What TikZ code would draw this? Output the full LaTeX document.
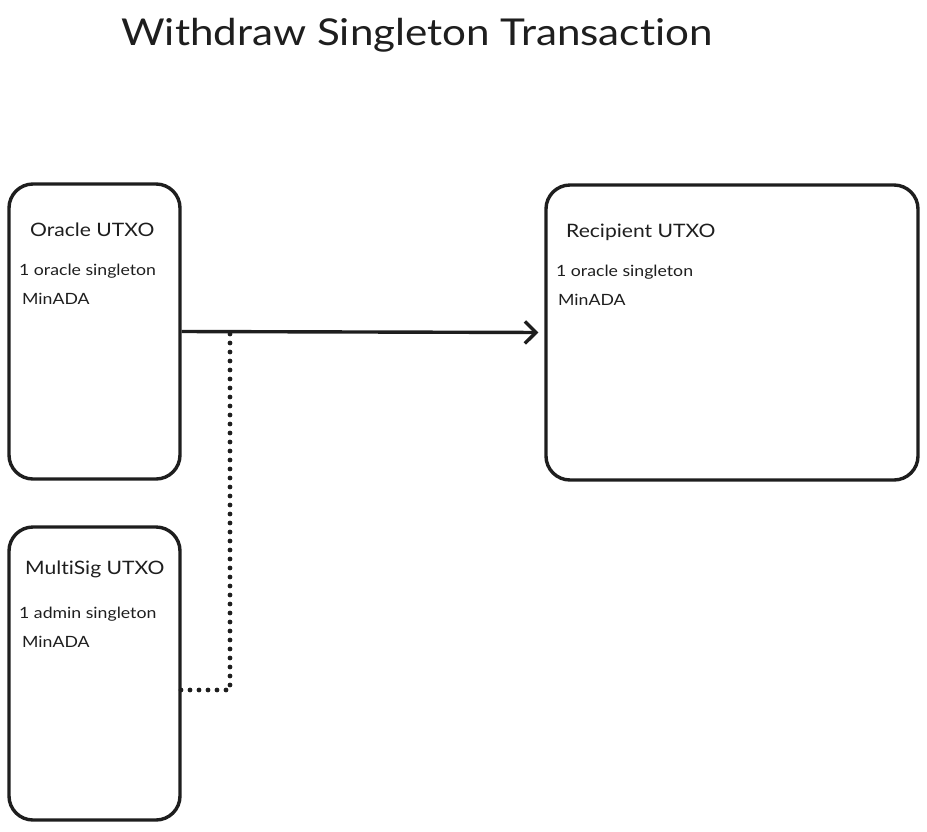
\documentclass[tikz,border=0pt]{standalone}
\usepackage{fontspec}
\setmainfont{Lato}[Ligatures={NoCommon}]
\usetikzlibrary{arrows.meta}
\definecolor{ink}{HTML}{1E1E1E}
\newcommand{\hw}[1]{\scalebox{1.14}[1]{#1}}
\tikzset{
  utxo/.style={draw=ink, line width=3.4pt, rounded corners=24pt, inner sep=0pt, anchor=center},
  head/.style={text=ink, font=\fontsize{18.5}{22}\selectfont, anchor=base west, inner sep=0pt},
  item/.style={text=ink, font=\fontsize{15.5}{18}\selectfont, anchor=base west, inner sep=0pt},
  flow/.style={draw=ink, line width=3.4pt, -{Straight Barb[length=11pt,width=22pt,line width=3.4pt]}},
  link/.style={draw=ink, line width=4.8pt, line cap=round, dash pattern=on 0pt off 9pt}
}
\begin{document}
\begin{tikzpicture}[x=1pt,y=-1pt]
\useasboundingbox (0,0) rectangle (927,831);
\node[text=ink, font=\fontsize{37}{44}\selectfont, anchor=base, inner sep=0pt] (title) at (417,45) {\hw{Withdraw Singleton Transaction}};
\node[utxo, minimum width=171pt, minimum height=295pt] (oracle) at (94.5,331.5) {};
\node[utxo, minimum width=171pt, minimum height=293pt] (multisig) at (94.5,673.5) {};
\node[utxo, minimum width=372pt, minimum height=295pt] (recipient) at (732,332.5) {};
\node[head] (oh) at (30,236) {\hw{Oracle UTXO}};
\node[item] (o1) at (19,275) {\hw{1 oracle singleton}};
\node[item] (o2) at (22,304) {\hw{MinADA}};
\node[head] (mh) at (25,574) {\hw{MultiSig UTXO}};
\node[item] (m1) at (19,618) {\hw{1 admin singleton}};
\node[item] (m2) at (22,647) {\hw{MinADA}};
\node[head] (rh) at (566,237) {\hw{Recipient UTXO}};
\node[item] (r1) at (556,276) {\hw{1 oracle singleton}};
\node[item] (r2) at (558,305) {\hw{MinADA}};
\coordinate (join) at (230,330);
\coordinate (mout) at (181,690);
\draw[flow, shorten >=6pt] (oracle.east) -- (recipient.west);
\draw[link] (mout) -| (join);
\end{tikzpicture}
\end{document}
